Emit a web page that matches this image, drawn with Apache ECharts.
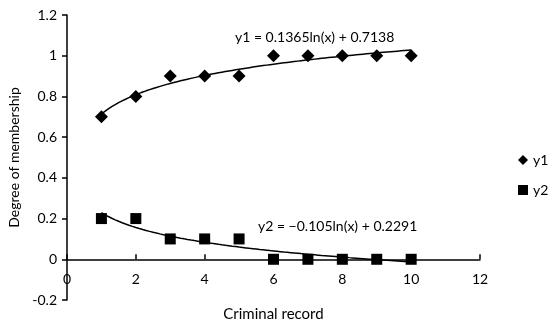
<!DOCTYPE html>
<html>
<head>
<meta charset="utf-8">
<script src="https://cdn.jsdelivr.net/npm/echarts@6/dist/echarts.min.js"></script>
<style>html,body{margin:0;padding:0;background:#fff;}#c{width:550px;height:325px;}</style>
</head>
<body>
<div id="c"></div>
<script>
var xValues = [1, 2, 3, 4, 5, 6, 7, 8, 9, 10];
var y1Values = [0.7, 0.8, 0.9, 0.9, 0.9, 1, 1, 1, 1, 1];
var y2Values = [0.2, 0.2, 0.1, 0.1, 0.1, 0, 0, 0, 0, 0];
var y1Coef = [0.1365, 0.7138]; // a*ln(x)+b
var y2Coef = [-0.105, 0.2291];
var y1Label = 'y1 = 0.1365ln(x) + 0.7138';
var y2Label = 'y2 = \u22120.105ln(x) + 0.2291';
var xTicks = [0, 2, 4, 6, 8, 10, 12];
var yTicks = [-0.2, 0, 0.2, 0.4, 0.6, 0.8, 1, 1.2];

function pairs(xs, ys) { return xs.map(function (x, i) { return [x, ys[i]]; }); }
function trend(coef) {
  var out = [];
  for (var i = 0; i <= 90; i++) {
    var x = 1 + i * 0.1;
    out.push([x, coef[0] * Math.log(x) + coef[1]]);
  }
  return out;
}
var FONT = 'Lato';
var chart = echarts.init(document.getElementById('c'));
chart.setOption({
  animation: false,
  textStyle: { fontFamily: FONT, color: '#000' },
  grid: { left: 67, right: 70, top: 15, bottom: 25, containLabel: false, outerBoundsMode: 'none' },
  xAxis: {
    type: 'value', min: xTicks[0], max: xTicks[xTicks.length - 1], interval: 2,
    name: 'Criminal record', nameLocation: 'middle', nameGap: 7,
    nameTextStyle: { fontSize: 15, color: '#000', fontFamily: FONT },
    axisLine: { onZero: true, lineStyle: { color: '#000', width: 1.5 } },
    axisTick: { inside: true, length: 5, lineStyle: { color: '#000', width: 1.5 } },
    axisLabel: { fontSize: 14, color: '#000', margin: -28, fontFamily: FONT },
    splitLine: { show: false }
  },
  yAxis: {
    type: 'value', min: yTicks[0], max: yTicks[yTicks.length - 1], interval: 0.2,
    name: 'Degree of membership', nameLocation: 'middle', nameGap: 46,
    nameTextStyle: { fontSize: 14, color: '#000', fontFamily: FONT },
    axisLine: { show: true, onZero: false, lineStyle: { color: '#000', width: 1.5 } },
    axisTick: { show: true, length: 5, lineStyle: { color: '#000', width: 1.5 } },
    axisLabel: { fontSize: 14, color: '#000', margin: 10, fontFamily: FONT,
      formatter: function (v) { return String(Math.round(v * 10) / 10); } },
    splitLine: { show: false }
  },
  legend: {
    orient: 'vertical', left: 513, top: 148, itemGap: 16,
    itemWidth: 10, itemHeight: 10,
    textStyle: { fontSize: 14, color: '#000', fontFamily: FONT },
    data: [{ name: 'y1', icon: 'diamond' }, { name: 'y2', icon: 'rect' }]
  },
  series: [
    { name: 'y1', type: 'scatter', symbol: 'diamond', symbolSize: 13,
      itemStyle: { color: '#000', opacity: 1 }, data: pairs(xValues, y1Values), z: 3 },
    { name: 'y2', type: 'scatter', symbol: 'rect', symbolSize: 11,
      itemStyle: { color: '#000', opacity: 1 }, data: pairs(xValues, y2Values), z: 3 },
    { name: 't1', type: 'line', showSymbol: false, symbol: 'none', data: trend(y1Coef),
      lineStyle: { color: '#000', width: 1.5 }, z: 4, silent: true },
    { name: 't2', type: 'line', showSymbol: false, symbol: 'none', data: trend(y2Coef),
      lineStyle: { color: '#000', width: 1.5 }, z: 4, silent: true }
  ],
  graphic: [
    { type: 'text', left: 235, top: 30, style: { text: y1Label, font: '14px ' + FONT, fill: '#000' } },
    { type: 'text', left: 258, top: 219, style: { text: y2Label, font: '14px ' + FONT, fill: '#000' } }
  ]
});
</script>
</body>
</html>
